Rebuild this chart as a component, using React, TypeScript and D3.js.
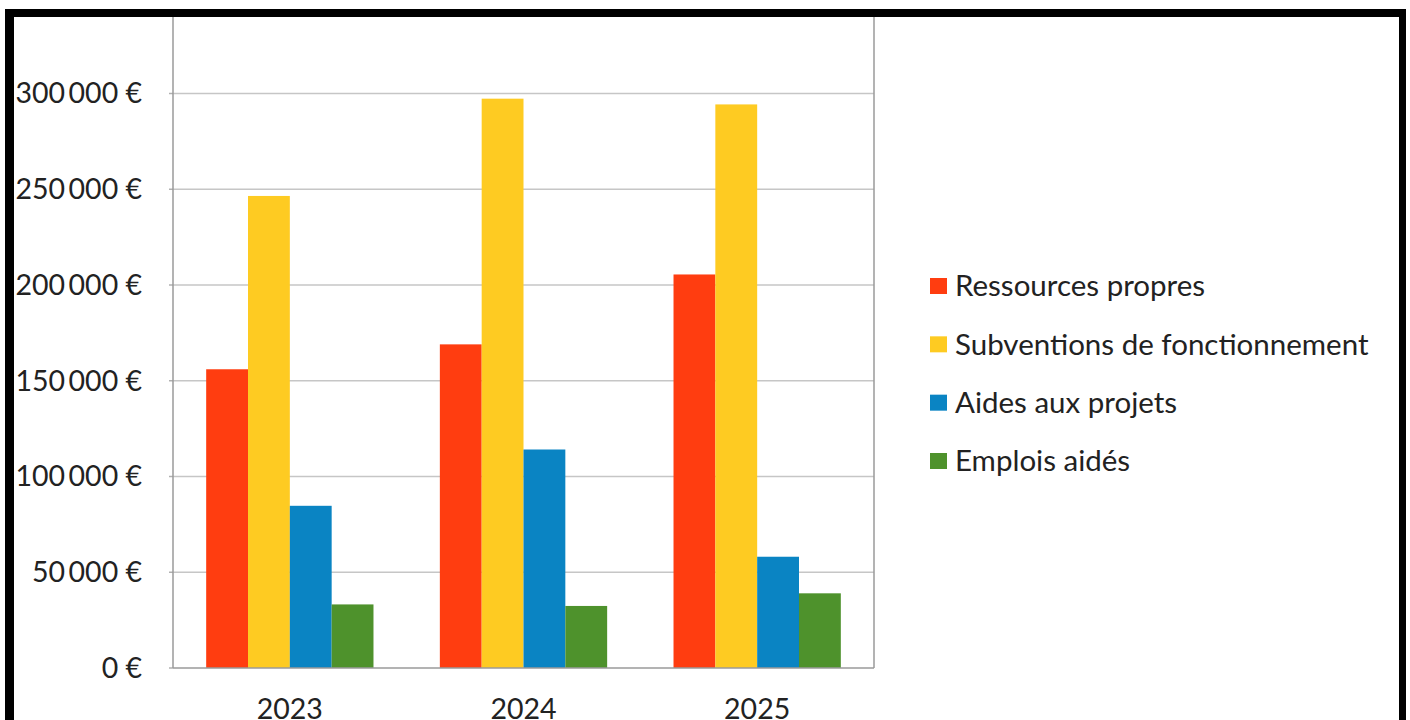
import React from "react";
import * as d3 from "d3";

const years = ["2023", "2024", "2025"];
const seriesNames = [
  "Ressources propres",
  "Subventions de fonctionnement",
  "Aides aux projets",
  "Emplois aidés",
];
const ressourcesPropres = [156000, 169000, 205500];
const subventions = [246500, 297300, 294300];
const aidesProjets = [84700, 114100, 58100];
const emploisAides = [33200, 32400, 39000];
const seriesColors = ["#ff3d10", "#fecb22", "#0a84c3", "#4e922c"];
const yTicks = [0, 50000, 100000, 150000, 200000, 250000, 300000];

const W = 1410;
const H = 720;
const FONT = "Lato, 'Open Sans', sans-serif";

export default function App() {
  const allSeries = [ressourcesPropres, subventions, aidesProjets, emploisAides];
  const left = 173;
  const right = 874;
  const y = d3.scaleLinear().domain([0, 300000]).range([668, 93.5]);
  const x0 = d3
    .scaleBand<string>()
    .domain(years)
    .range([left, right])
    .paddingInner(0.284)
    .paddingOuter(0.142);
  const x1 = d3
    .scaleBand<number>()
    .domain(d3.range(seriesNames.length))
    .range([0, x0.bandwidth()]);
  const fmt = (v: number) =>
    v === 0 ? "0 €" : d3.format(",")(v).replace(/,/g, "\u2009") + " €";
  const legendY = d3.scalePoint<string>().domain(seriesNames).range([286, 461]);

  return (
    <svg
      width={W}
      height={H}
      style={{ position: "absolute", left: 0, top: 0, background: "#fff" }}
      fontFamily={FONT}
    >
      <rect x={0} y={0} width={W} height={H} fill="#fff" />
      {yTicks.slice(1).map((t) => (
        <line key={t} x1={left} x2={right} y1={y(t)} y2={y(t)} stroke="#c6c6c6" strokeWidth={1.5} />
      ))}
      {yTicks.map((t) => (
        <line key={"tk" + t} x1={left - 4} x2={left} y1={y(t)} y2={y(t)} stroke="#b0b0b0" strokeWidth={1.5} />
      ))}
      {years.map((yr, gi) => (
        <g key={yr} transform={`translate(${x0(yr)},0)`}>
          {allSeries.map((s, si) => (
            <rect
              key={si}
              x={x1(si)}
              y={y(s[gi])}
              width={x1.bandwidth()}
              height={y(0) - y(s[gi])}
              fill={seriesColors[si]}
            />
          ))}
        </g>
      ))}
      <line x1={left} x2={left} y1={17} y2={y(0)} stroke="#9a9a9a" strokeWidth={1.5} />
      <line x1={right} x2={right} y1={17} y2={y(0)} stroke="#9a9a9a" strokeWidth={1.5} />
      <line x1={left} x2={right} y1={y(0)} y2={y(0)} stroke="#9a9a9a" strokeWidth={1.5} />
      {yTicks.map((t) => (
        <text
          key={t}
          x={142}
          y={y(t)}
          dy="0.35em"
          textAnchor="end"
          fontSize={28.5}
          fill="#222"
        >
          {fmt(t)}
        </text>
      ))}
      {years.map((yr) => (
        <text
          key={yr}
          x={(x0(yr) as number) + x0.bandwidth() / 2}
          y={719}
          textAnchor="middle"
          fontSize={28.5}
          fill="#222"
        >
          {yr}
        </text>
      ))}
      {seriesNames.map((n, i) => (
        <g key={n}>
          <rect x={930} y={legendY(n)! - 8} width={17} height={16} fill={seriesColors[i]} />
          <text x={955} y={legendY(n)!} dy="0.35em" fontSize={29.5} fill="#222">
            {n}
          </text>
        </g>
      ))}
      <rect x={5} y={9} width={1401} height={8} fill="#000" />
      <rect x={5} y={9} width={9} height={H - 9} fill="#000" />
      <rect x={1399} y={9} width={7} height={H - 9} fill="#000" />
    </svg>
  );
}
